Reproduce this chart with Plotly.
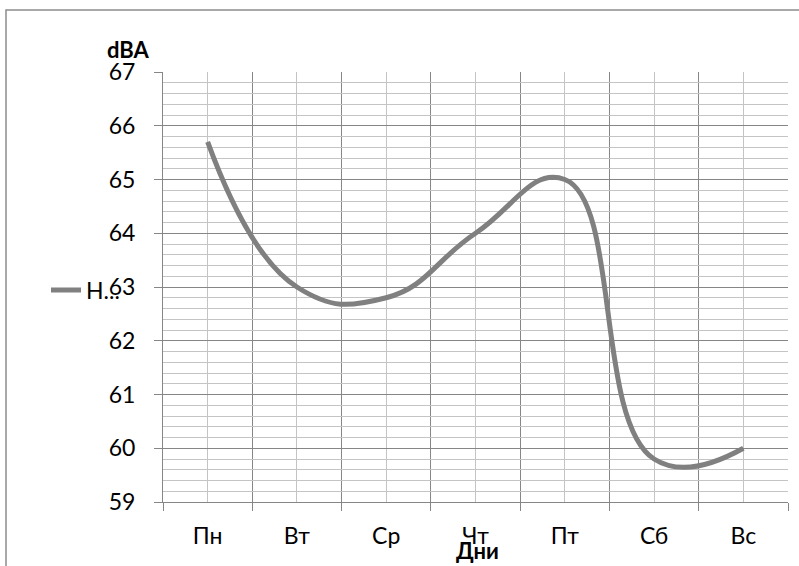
import plotly.graph_objects as go

days = ["Пн", "Вт", "Ср", "Чт", "Пт", "Сб", "Вс"]
noise_dba = [65.7, 63.0, 62.8, 64.0, 65.0, 59.8, 60.0]
series_name = "Н..."
y_ticks = [59, 60, 61, 62, 63, 64, 65, 66, 67]

W, H = 799, 566
L, R, T, B = 163, 788, 72, 502
pw, ph = R - L, B - T


def px_x(x):
    return (x - L) / pw


def px_y(y):
    return (B - y) / ph


FONT = "Lato, Carlito, Calibri, sans-serif"
DARK = "#868686"
LIGHT = "#c4c4c4"

xpos = list(range(len(days)))

fig = go.Figure()
fig.add_trace(go.Scatter(
    x=xpos, y=noise_dba, mode="lines", name=series_name,
    line=dict(color="#808080", width=5, shape="spline", smoothing=1.3),
    showlegend=True,
))

fig.update_layout(
    width=W, height=H,
    margin=dict(l=L, r=W - R, t=T, b=H - B, autoexpand=False),
    paper_bgcolor="white", plot_bgcolor="white",
    font=dict(family=FONT, size=23, color="black"),
    showlegend=True,
    legend=dict(x=px_x(46), y=px_y(290), xanchor="left", yanchor="middle",
                bgcolor="rgba(0,0,0,0)", borderwidth=0,
                font=dict(family=FONT, size=23, color="black")),
    xaxis=dict(
        range=[-0.5, len(days) - 0.5], tickmode="array", tickvals=xpos, ticktext=days,
        showgrid=True, gridcolor=LIGHT, gridwidth=1.2, ticks="",
        showline=True, linecolor=DARK, linewidth=1, zeroline=False,
        minor=dict(tickmode="linear", tick0=-0.5, dtick=1, showgrid=True,
                   gridcolor=DARK, gridwidth=1, ticks="outside", ticklen=8,
                   tickcolor=DARK, tickwidth=1),
        ticklabelstandoff=13, automargin=False, fixedrange=True,
    ),
    yaxis=dict(
        range=[y_ticks[0], y_ticks[-1]], tickmode="array", tickvals=y_ticks,
        showgrid=True, gridcolor=DARK, gridwidth=1,
        ticks="outside", ticklen=8, tickcolor=DARK, tickwidth=1,
        showline=True, linecolor=DARK, linewidth=1, zeroline=False,
        minor=dict(tickmode="linear", tick0=59, dtick=0.2, showgrid=True,
                   gridcolor=LIGHT, gridwidth=1.2, ticks=""),
        ticklabelstandoff=14, automargin=False, fixedrange=True,
    ),
    annotations=[
        dict(text="<b>dBA</b>", x=px_x(128), y=px_y(49), xref="paper", yref="paper",
             showarrow=False, xanchor="center", yanchor="middle",
             font=dict(family=FONT, size=22, color="black")),
        dict(text="<b>Дни</b>", x=px_x(477), y=px_y(550), xref="paper", yref="paper",
             showarrow=False, xanchor="center", yanchor="middle",
             font=dict(family=FONT, size=22, color="black")),
    ],
    shapes=[
        dict(type="rect", xref="paper", yref="paper",
             x0=px_x(6), x1=px_x(812), y0=px_y(580), y1=px_y(10),
             line=dict(color="#8c8c8c", width=1.5), fillcolor="rgba(0,0,0,0)",
             layer="below"),
    ],
)

fig.write_html("out.html")
